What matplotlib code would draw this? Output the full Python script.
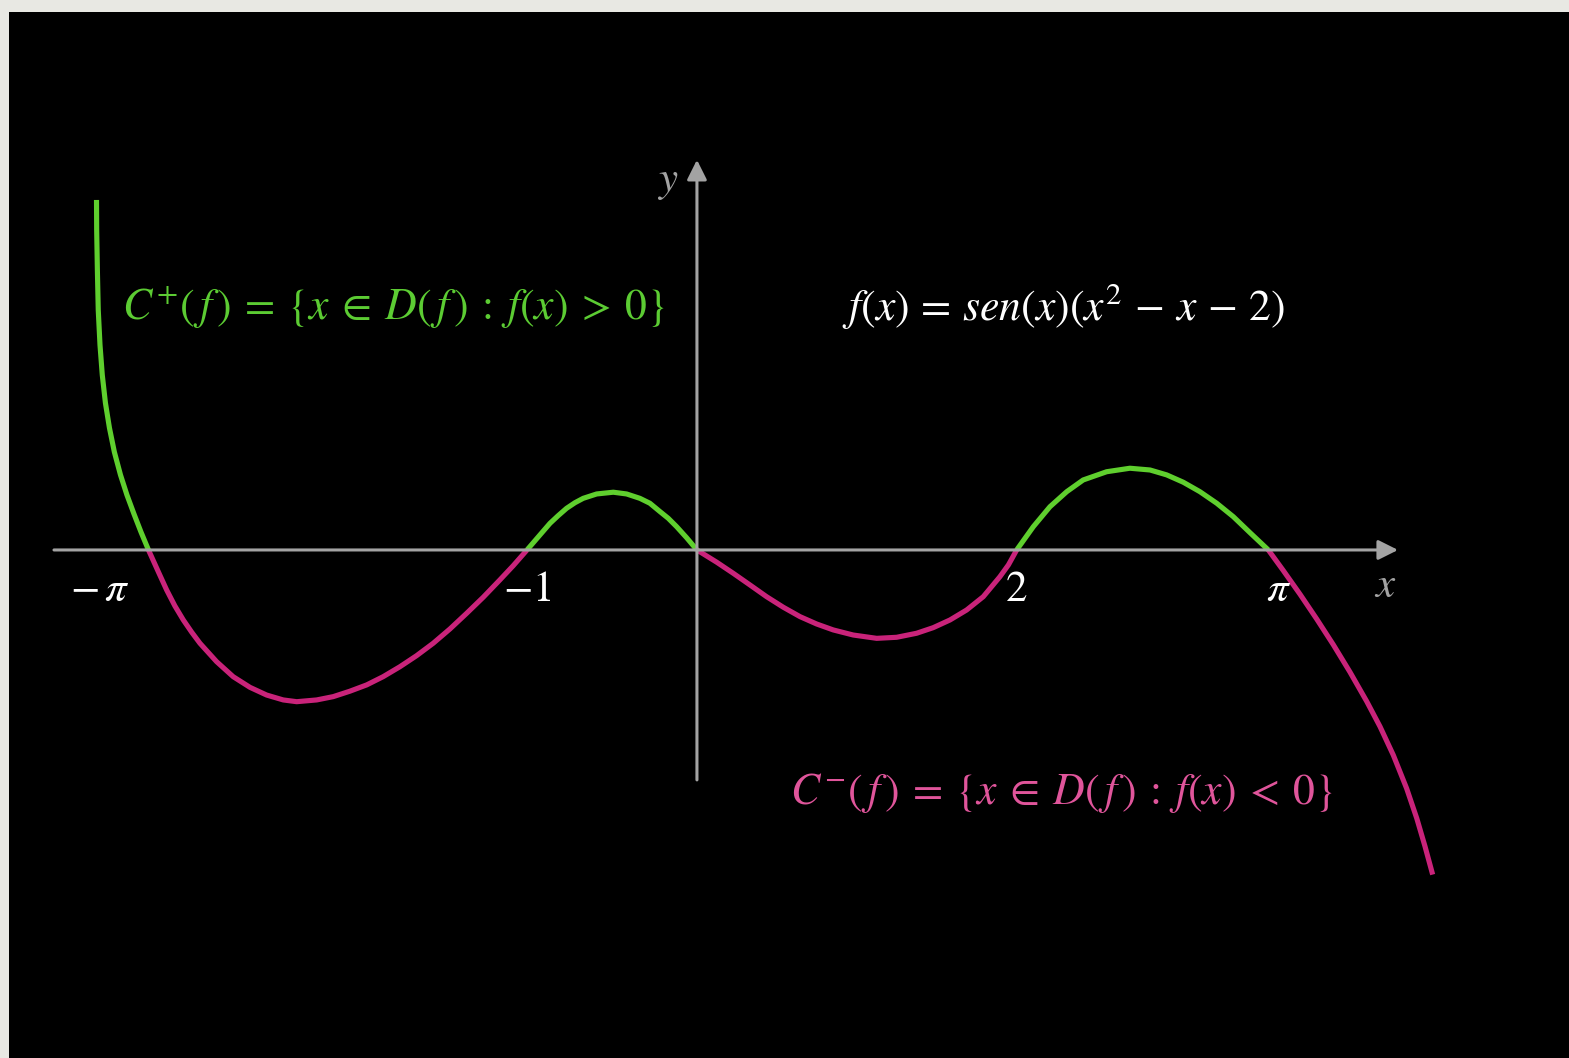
import matplotlib
matplotlib.use("Agg")
import matplotlib.pyplot as plt

plt.rcParams['mathtext.fontset'] = 'stix'
plt.rcParams['font.family'] = ['STIXGeneral', 'DejaVu Serif']

# curve (units: about 175 px each)
x_pts = [-3.431, -3.430, -3.426, -3.421, -3.411, -3.398, -3.380, -3.357, -3.329, -3.294,
         -3.257, -3.217, -3.177, -3.134,
         -3.078, -3.030, -2.983, -2.935, -2.887, -2.840, -2.745, -2.650, -2.554, -2.459,
         -2.364, -2.287, -2.173, -2.078, -1.983, -1.887, -1.793, -1.697, -1.602, -1.507,
         -1.411, -1.316, -1.221, -1.126, -1.050, -0.971,
         -0.897, -0.840, -0.793, -0.745, -0.697, -0.650, -0.573, -0.478, -0.402, -0.326,
         -0.269, -0.211, -0.164, -0.116, -0.059, 0.0,
         0.113, 0.207, 0.303, 0.398, 0.493, 0.589, 0.684, 0.779, 0.893, 1.027, 1.141, 1.255,
         1.350, 1.446, 1.541, 1.636, 1.731, 1.780, 1.827,
         1.922, 2.017, 2.113, 2.207, 2.341, 2.474, 2.589, 2.684, 2.779, 2.874, 2.970, 3.065,
         3.160, 3.265,
         3.350, 3.446, 3.541, 3.636, 3.731, 3.827, 3.903, 3.979, 4.055, 4.113, 4.160, 4.204]
y_pts = [2.000, 1.829, 1.600, 1.371, 1.171, 1.000, 0.840, 0.697, 0.560, 0.429,
         0.314, 0.206, 0.103, 0.0,
         -0.124, -0.229, -0.320, -0.400, -0.470, -0.533, -0.638, -0.724, -0.785, -0.829,
         -0.857, -0.867, -0.857, -0.838, -0.807, -0.771, -0.724, -0.667, -0.604, -0.533,
         -0.451, -0.362, -0.270, -0.171, -0.090, 0.0,
         0.086, 0.152, 0.196, 0.238, 0.270, 0.295, 0.320, 0.330, 0.320, 0.295,
         0.267, 0.219, 0.181, 0.133, 0.070, 0.0,
         -0.070, -0.133, -0.200, -0.267, -0.327, -0.381, -0.423, -0.457, -0.486, -0.505,
         -0.499, -0.476, -0.444, -0.400, -0.343, -0.267, -0.153, -0.085, 0.0,
         0.133, 0.247, 0.333, 0.400, 0.447, 0.467, 0.457, 0.429, 0.387, 0.333, 0.267, 0.190,
         0.099, 0.0,
         -0.117, -0.253, -0.394, -0.541, -0.697, -0.865, -1.009, -1.172, -1.362, -1.533,
         -1.693, -1.855]

tick_x = [-3.134, -0.969, 1.827, 3.266]
tick_labels = [r'$-\,\pi$', r'$-1$', r'$2$', r'$\pi$']

formula = r'$f(x)\,=\,sen(x)(x^2\,-\,x\,-\,2)$'
pos_set = r'$C^{+}(\,f\,)\:=\:\{x\:\in\:D(\,f\,)\:{:}\:f(x)\:>\:0\}$'
neg_set = r'$C^{-}(\,f\,)\:=\:\{x\:\in\:D(\,f\,)\:{:}\:f(x)\:<\:0\}$'

green = '#5fcf2e'
pink = '#c9237a'
gray = '#a3a3a3'

fig = plt.figure(figsize=(15.69, 10.58), dpi=100)
fig.patch.set_facecolor('#e8e8e3')
ax = fig.add_axes([9 / 1569, 0, 1560 / 1569, 1046 / 1058])
ax.set_facecolor('black')
for s in ax.spines.values():
    s.set_visible(False)
ax.set_xticks([])
ax.set_yticks([])
ax.set_xlim(-3.931, 4.983)
ax.set_ylim(-2.903, 3.074)

# axes with arrows
ax.annotate('', xy=(4.006, 0), xytext=(-3.674, 0),
            arrowprops=dict(arrowstyle='-|>', color=gray, lw=2.2,
                            mutation_scale=30, shrinkA=0, shrinkB=0))
ax.annotate('', xy=(0, 2.229), xytext=(0, -1.314),
            arrowprops=dict(arrowstyle='-|>', color=gray, lw=2.2,
                            mutation_scale=30, shrinkA=0, shrinkB=0))

# split the curve at its zeros, colour by sign
start = 0
for i in range(1, len(y_pts)):
    if y_pts[i] == 0 or i == len(y_pts) - 1:
        xs = x_pts[start:i + 1]
        ys = y_pts[start:i + 1]
        c = green if sum(ys) > 0 else pink
        ax.plot(xs, ys, color=c, lw=3.7, solid_capstyle='butt', solid_joinstyle='round')
        start = i

# tick labels
offsets = [-0.28, 0.0, 0.0, 0.06]
for tx, lab, off in zip(tick_x, tick_labels, offsets):
    ax.text(tx + off, -0.29, lab, color='white', fontsize=31,
            ha='center', va='baseline')

ax.text(3.931, -0.27, r'$x$', color=gray, fontsize=31, ha='center', va='baseline')
ax.text(-0.166, 2.05, r'$y$', color=gray, fontsize=31, ha='center', va='baseline')

ax.text(-3.286, 1.315, pos_set, color='#5ccc33', fontsize=31.5, ha='left', va='baseline')
ax.text(0.827, 1.315, formula, color='white', fontsize=31.5, ha='left', va='baseline')
ax.text(0.531, -1.451, neg_set, color='#e0559b', fontsize=31.5, ha='left', va='baseline')

fig.savefig('out.png', dpi=100, facecolor=fig.get_facecolor())
